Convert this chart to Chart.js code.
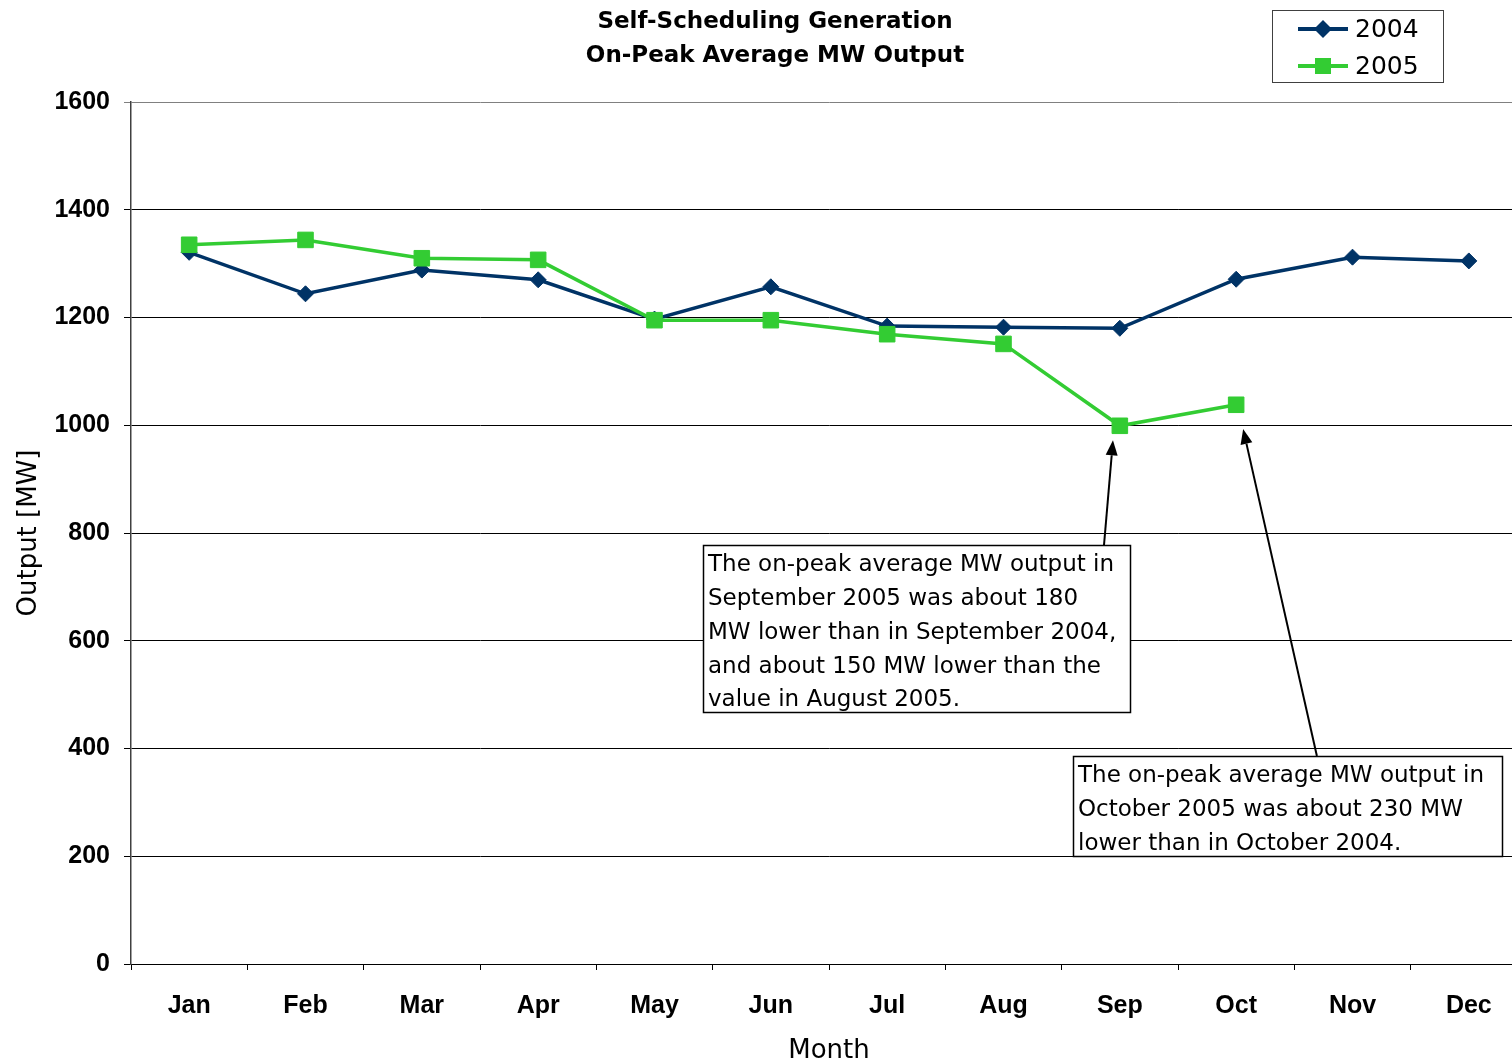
<!DOCTYPE html>
<html>
<head>
<meta charset="utf-8">
<script src="https://cdn.jsdelivr.net/npm/chart.js@4"></script>
<style>
  html, body { margin: 0; padding: 0; background: #fff; overflow: hidden; }
  #chart { display: block; }
</style>
</head>
<body>
<canvas id="chart" width="1528" height="1061"></canvas>
<script>
const months = ['Jan', 'Feb', 'Mar', 'Apr', 'May', 'Jun', 'Jul', 'Aug', 'Sep', 'Oct', 'Nov', 'Dec'];
const output2004 = [1321, 1244, 1288, 1270, 1197, 1257, 1184, 1182, 1180, 1271, 1312, 1305];
const output2005 = [1335, 1344, 1310, 1307, 1195, 1195, 1169, 1151, 999, 1038, null, null];
const titleLines = ['Self-Scheduling Generation', 'On-Peak Average MW Output'];
const noteSep = [
  'The on-peak average MW output in',
  'September 2005 was about 180',
  'MW lower than in September 2004,',
  'and about 150 MW lower than the',
  'value in August 2005.'
];
const noteOct = [
  'The on-peak average MW output in',
  'October 2005 was about 230 MW',
  'lower than in October 2004.'
];

const TAHOMA = '"DejaVu Sans", Verdana, sans-serif';
const ARIAL = '"Liberation Sans", Arial, sans-serif';

// note boxes and arrows, in axis units (category index, MW)
const notes = [
  { lines: noteSep, box: [4.417, 777.7, 8.088, 467.8], from: [7.864, 777.7], to: [7.941, 972] },
  { lines: noteOct, box: [7.598, 386.1, 11.285, 200.5], from: [9.694, 386.1], to: [9.06, 993] }
];

function arrow(ctx, x1, y1, x2, y2) {
  const a = Math.atan2(y2 - y1, x2 - x1);
  const len = 15, half = 6;
  const c = Math.cos(a), s = Math.sin(a);
  ctx.beginPath();
  ctx.moveTo(x1, y1);
  ctx.lineTo(x2 - c * len, y2 - s * len);
  ctx.stroke();
  ctx.beginPath();
  ctx.moveTo(x2, y2);
  ctx.lineTo(x2 - c * len + s * half, y2 - s * len - c * half);
  ctx.lineTo(x2 - c * len - s * half, y2 - s * len + c * half);
  ctx.closePath();
  ctx.fill();
}

function marker(ctx, style, x, y, color) {
  ctx.fillStyle = color;
  ctx.beginPath();
  if (style === 'rectRot') {
    const r = 9;
    ctx.moveTo(x - r, y); ctx.lineTo(x, y - r); ctx.lineTo(x + r, y); ctx.lineTo(x, y + r);
    ctx.closePath();
  } else {
    ctx.rect(x - 8, y - 8, 16, 16);
  }
  ctx.fill();
}

const decorPlugin = {
  id: 'decor',
  afterDraw(chart) {
    const ctx = chart.ctx;
    const x = chart.scales.x, y = chart.scales.y;
    ctx.save();

    // title
    ctx.fillStyle = '#000';
    ctx.font = 'bold 23px ' + TAHOMA;
    ctx.textAlign = 'center';
    ctx.textBaseline = 'middle';
    titleLines.forEach((t, i) => ctx.fillText(t, 775, 22 + i * 34));

    // legend
    ctx.strokeStyle = '#404040';
    ctx.lineWidth = 1;
    ctx.strokeRect(1272.5, 10.5, 171, 72);
    chart.data.datasets.forEach((ds, i) => {
      const ly = 29 + i * 37;
      ctx.strokeStyle = ds.borderColor;
      ctx.lineWidth = 4;
      ctx.beginPath(); ctx.moveTo(1298, ly); ctx.lineTo(1348, ly); ctx.stroke();
      marker(ctx, ds.pointStyle, 1323, ly, ds.borderColor);
      ctx.fillStyle = '#000';
      ctx.font = '25px ' + TAHOMA;
      ctx.textAlign = 'left';
      ctx.fillText(ds.label, 1355, ly + 1);
    });

    // notes with arrows
    notes.forEach(n => {
      const bx0 = Math.round(x.getPixelForValue(n.box[0])) + 0.5;
      const by0 = Math.round(y.getPixelForValue(n.box[1])) + 0.5;
      const bx1 = Math.round(x.getPixelForValue(n.box[2])) + 0.5;
      const by1 = Math.round(y.getPixelForValue(n.box[3])) + 0.5;
      ctx.fillStyle = '#fff';
      ctx.fillRect(bx0, by0, bx1 - bx0, by1 - by0);
      ctx.strokeStyle = '#000';
      ctx.lineWidth = 1.5;
      ctx.strokeRect(bx0, by0, bx1 - bx0, by1 - by0);
      ctx.fillStyle = '#000';
      ctx.font = '23px ' + TAHOMA;
      ctx.textAlign = 'left';
      ctx.textBaseline = 'middle';
      n.lines.forEach((t, i) => ctx.fillText(t, bx0 + 4.5, by0 + 20 + i * 33.7));
      ctx.lineWidth = 2;
      arrow(ctx,
        x.getPixelForValue(n.from[0]), y.getPixelForValue(n.from[1]),
        x.getPixelForValue(n.to[0]), y.getPixelForValue(n.to[1]));
    });
    ctx.restore();
  }
};

new Chart(document.getElementById('chart'), {
  type: 'line',
  data: {
    labels: months,
    datasets: [
      {
        label: '2004',
        data: output2004,
        order: 1,
        borderColor: '#003366',
        backgroundColor: '#003366',
        borderWidth: 3.5,
        pointStyle: 'rectRot',
        pointRadius: 8,
        pointBorderWidth: 1,
        tension: 0
      },
      {
        label: '2005',
        data: output2005,
        order: 0,
        borderColor: '#33CC33',
        backgroundColor: '#33CC33',
        borderWidth: 3.5,
        pointStyle: 'rect',
        pointRadius: 11,
        pointBorderWidth: 1,
        tension: 0
      }
    ]
  },
  options: {
    responsive: false,
    animation: false,
    devicePixelRatio: 1,
    layout: { autoPadding: false, padding: { top: 102, right: 1, left: 0, bottom: 0 } },
    plugins: { legend: { display: false }, tooltip: { enabled: false } },
    scales: {
      x: {
        offset: true,
        grid: { offset: true, drawOnChartArea: false, tickLength: 6, color: '#000' },
        border: { color: '#000', width: 1 },
        ticks: { color: '#000', font: { family: ARIAL, size: 25, weight: 'bold' }, padding: 21, maxRotation: 0, autoSkip: false },
        title: { display: true, text: 'Month', color: '#000', font: { family: TAHOMA, size: 26 }, padding: { top: 0, bottom: -6 } },
        afterFit: s => { s.height = 97; }
      },
      y: {
        min: 0,
        max: 1600,
        ticks: { stepSize: 200, color: '#000', font: { family: ARIAL, size: 25, weight: 'bold' }, padding: 14, callback: v => String(v) },
        grid: { color: c => c.tick && c.tick.value === 1600 ? '#808080' : '#000', lineWidth: 1, tickLength: 7 },
        border: { color: '#404040', width: 1.5 },
        title: { display: true, text: 'Output [MW]', color: '#000', font: { family: TAHOMA, size: 26 }, padding: { top: 14, bottom: 0 } },
        afterFit: s => { s.width = 131; }
      }
    }
  },
  plugins: [decorPlugin]
});
</script>
</body>
</html>
